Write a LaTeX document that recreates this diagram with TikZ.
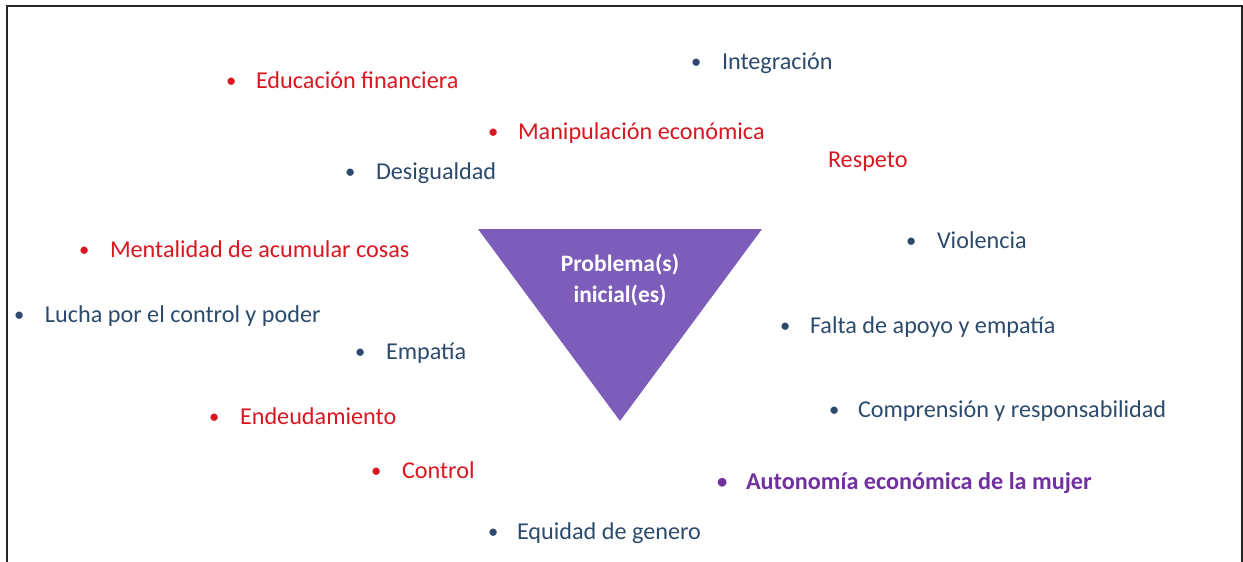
\documentclass[tikz,border=0pt]{standalone}
\usepackage{fontspec}
\setmainfont{Carlito}
\definecolor{itemred}{HTML}{DA1620}
\definecolor{itemblue}{HTML}{2C4A6C}
\definecolor{itempurple}{HTML}{7030A0}
\definecolor{trifill}{HTML}{7C5DBA}
\newcommand{\bul}[1]{\makebox[#1pt][l]{\raisebox{0.5pt}{\scalebox{0.85}{\textbullet}}}}
\begin{document}
\begin{tikzpicture}[x=1pt,y=-1pt,
  item/.style={anchor=base west, inner sep=0pt, outer sep=0pt, font=\fontsize{24.2}{28}\selectfont},
  redtxt/.style={item, text=itemred},
  bluetxt/.style={item, text=itemblue},
  purpletxt/.style={item, text=itempurple, font=\fontsize{24.2}{28}\selectfont\bfseries},
  titletxt/.style={align=center, text=white, inner sep=0pt, font=\fontsize{23.5}{31}\selectfont\bfseries},
  frame/.style={line width=2pt, draw=black!85}]
\useasboundingbox (0,0) rectangle (1243,562);
\draw[frame] (6.5,563) -- (6.5,5.5) -- (1241.5,5.5) -- (1241.5,563);
% central triangle
\coordinate (tl) at (478,229);
\coordinate (tr) at (762,229);
\coordinate (tb) at (620,421);
\fill[trifill] (tl) -- (tr) -- (tb) -- cycle;
\node[titletxt] (prob) at (620,280) {Problema(s)\\inicial(es)};
% items
\node[redtxt] (edu) at (226,88) {\bul{30}Educación financiera};
\node[bluetxt] (int) at (691,69) {\bul{31}Integración};
\node[redtxt] (man) at (488,139) {\bul{30}Manipulación económica};
\node[redtxt] (res) at (828,167) {Respeto};
\node[bluetxt] (des) at (345,179) {\bul{31}Desigualdad};
\node[redtxt] (men) at (79,257) {\bul{31}Mentalidad de acumular cosas};
\node[bluetxt] (vio) at (906,248) {\bul{31}Violencia};
\node[bluetxt] (luc) at (14,322) {\bul{31}Lucha por el control y poder};
\node[bluetxt] (fal) at (780,333) {\bul{30}Falta de apoyo y empatía};
\node[bluetxt] (emp) at (355,359) {\bul{31}Empatía};
\node[bluetxt] (com) at (829,417) {\bul{29}Comprensión y responsabilidad};
\node[redtxt] (end) at (209,424) {\bul{31}Endeudamiento};
\node[redtxt] (con) at (371,478) {\bul{31}Control};
\node[purpletxt] (aut) at (717,489) {\bul{29}Autonomía económica de la mujer};
\node[bluetxt] (equ) at (488,539) {\bul{29}Equidad de genero};
\end{tikzpicture}
\end{document}
